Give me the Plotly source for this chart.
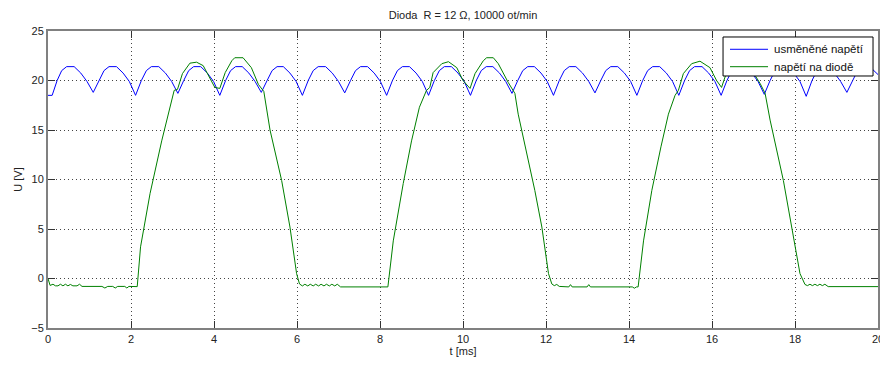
import plotly.graph_objects as go

# ---------------- data ----------------
blue_t = [0.00, 0.10, 0.22, 0.33, 0.45, 0.63, 0.79, 0.94,
          1.09, 1.23, 1.35, 1.47, 1.65, 1.81, 1.96,
          2.11, 2.25, 2.37, 2.49, 2.67, 2.83, 2.98,
          3.13, 3.27, 3.39, 3.51, 3.68, 3.84, 3.99,
          4.14, 4.28, 4.40, 4.52, 4.68, 4.84, 4.99,
          5.14, 5.28, 5.40, 5.52, 5.67, 5.83, 5.98,
          6.13, 6.27, 6.39, 6.51, 6.69, 6.85, 7.00,
          7.15, 7.29, 7.41, 7.53, 7.70, 7.86, 8.01,
          8.16, 8.30, 8.42, 8.54, 8.71, 8.87, 9.02,
          9.17, 9.31, 9.43, 9.55, 9.72, 9.88, 10.03,
          10.18, 10.32, 10.44, 10.56, 10.72, 10.88, 11.03,
          11.18, 11.32, 11.44, 11.56, 11.72, 11.88, 12.03,
          12.18, 12.32, 12.44, 12.56, 12.72, 12.88, 13.03,
          13.18, 13.32, 13.44, 13.56, 13.73, 13.89, 14.04,
          14.19, 14.33, 14.45, 14.57, 14.74, 14.90, 15.05,
          15.20, 15.34, 15.46, 15.58, 15.76, 15.92, 16.07,
          16.22, 16.36, 16.48, 16.60, 16.80, 16.96, 17.11,
          17.26, 17.40, 17.52, 17.64, 17.81, 17.97, 18.12,
          18.27, 18.41, 18.53, 18.65, 18.79, 18.95, 19.10,
          19.25, 19.39, 19.51, 19.63, 19.80, 20.00]
blue_v = [18.5, 18.5, 20.0, 21.0, 21.4, 21.4, 20.75, 19.9,
          18.8, 20.0, 21.0, 21.4, 21.4, 20.75, 19.9,
          18.5, 20.0, 21.0, 21.4, 21.4, 20.75, 19.9,
          18.7, 20.0, 21.0, 21.4, 21.4, 20.75, 19.9,
          18.5, 20.0, 21.0, 21.4, 21.4, 20.75, 19.9,
          18.8, 20.0, 21.0, 21.4, 21.4, 20.75, 19.9,
          18.5, 20.0, 21.0, 21.4, 21.4, 20.75, 19.9,
          18.75, 20.0, 21.0, 21.4, 21.4, 20.75, 19.9,
          18.5, 20.0, 21.0, 21.4, 21.4, 20.75, 19.9,
          18.5, 20.0, 21.0, 21.4, 21.4, 20.75, 19.9,
          18.5, 20.0, 21.0, 21.4, 21.4, 20.75, 19.9,
          18.7, 20.0, 21.0, 21.4, 21.4, 20.75, 19.9,
          18.5, 20.0, 21.0, 21.4, 21.4, 20.75, 19.9,
          18.75, 20.0, 21.0, 21.4, 21.4, 20.75, 19.9,
          18.5, 20.0, 21.0, 21.4, 21.4, 20.75, 19.9,
          18.5, 20.0, 21.0, 21.4, 21.4, 20.75, 19.9,
          18.5, 20.0, 21.0, 21.4, 21.4, 20.75, 19.9,
          18.6, 20.0, 21.0, 21.4, 21.4, 20.75, 19.9,
          18.4, 20.0, 21.0, 21.4, 21.4, 20.75, 19.9,
          18.8, 20.0, 21.0, 21.4, 21.4, 20.6]

green_t = [0.00, 0.05, 0.12, 0.18, 0.24, 0.30, 0.36, 0.42, 0.48, 0.54, 0.60, 0.70,
           0.76, 0.82, 1.30, 1.37, 1.44, 1.56, 1.62, 1.68, 1.85, 1.90, 1.95, 2.15,
           2.23, 2.46, 2.74, 2.90, 3.04, 3.12, 3.24, 3.42, 3.58, 3.74, 3.90, 4.02,
           4.14, 4.27, 4.43, 4.50, 4.70, 4.90, 5.07, 5.20, 5.35, 5.47, 5.63, 5.83,
           5.99, 6.06,
           6.13, 6.19, 6.26, 6.32, 6.39, 6.45, 6.52, 6.58, 6.65, 6.71, 6.78, 6.84,
           6.91, 6.97, 7.05, 8.19,
           8.32, 8.56, 8.76, 8.95, 9.12, 9.20, 9.28, 9.49, 9.65, 9.85, 10.00, 10.17,
           10.29, 10.49, 10.57, 10.73, 10.85, 11.09, 11.25, 11.33, 11.53, 11.73,
           11.90, 12.06, 12.14,
           12.20, 12.26, 12.32, 12.55, 12.59, 12.63, 12.99, 13.03, 13.07, 14.08,
           14.13, 14.18, 14.22,
           14.35, 14.55, 14.77, 14.95, 15.11, 15.19, 15.31, 15.51, 15.71, 15.95,
           16.11, 16.23, 16.35, 16.55, 16.62, 16.80, 16.92, 17.04, 17.16, 17.28,
           17.40, 17.72, 17.98, 18.12, 18.24,
           18.30, 18.36, 18.42, 18.48, 18.54, 18.60, 18.66, 18.72, 18.80, 20.00]
green_v = [0.0, -0.70, -0.58, -0.74, -0.74, -0.58, -0.74, -0.58, -0.74, -0.60, -0.74, -0.74,
           -0.58, -0.80, -0.80, -0.96, -0.80, -0.80, -0.96, -0.80, -0.80, -0.96, -0.80, -0.82,
           3.2, 8.6, 13.9, 16.6, 19.0, 19.1, 20.7, 21.75, 21.85, 21.5, 20.3, 19.3,
           19.2, 20.8, 22.0, 22.3, 22.3, 21.3, 19.6, 18.9, 15.0, 12.9, 9.9, 5.2,
           0.5, -0.55,
           -0.75, -0.58, -0.75, -0.58, -0.75, -0.58, -0.75, -0.58, -0.75, -0.58, -0.75, -0.58,
           -0.75, -0.58, -0.85, -0.85,
           3.8, 9.6, 13.9, 17.3, 19.0, 19.3, 20.8, 21.7, 21.9, 21.3, 20.0, 19.2,
           20.7, 22.0, 22.3, 22.3, 21.7, 19.8, 18.7, 16.6, 12.9, 8.9,
           5.2, 0.5, -0.55,
           -0.72, -0.60, -0.80, -0.85, -0.62, -0.85, -0.85, -0.62, -0.85, -0.85,
           -0.98, -0.85, -0.85,
           3.8, 8.9, 13.3, 16.6, 18.5, 19.0, 20.7, 21.7, 21.95, 21.3,
           20.0, 19.3, 20.8, 22.0, 22.3, 22.3, 21.5, 20.5, 19.7, 18.7,
           16.0, 9.9, 3.8, 0.5, -0.6,
           -0.72, -0.58, -0.72, -0.58, -0.72, -0.58, -0.72, -0.58, -0.82, -0.82]

series_names = ["usměněné napětí", "napětí na diodě"]
series_colors = ["#0000ff", "#008000"]
x_ticks = [0, 2, 4, 6, 8, 10, 12, 14, 16, 18, 20]
y_ticks = [-5, 0, 5, 10, 15, 20, 25]
title_text = "Dioda  R = 12 Ω, 10000 ot/min"
x_title = "t [ms]"
y_title = "U [V]"

# ---------------- figure ----------------
FONT = "Liberation Sans, Arial, Helvetica, sans-serif"
# the page body adds an 8 px offset, so the figure is 8 px smaller on each side
W, H = 880, 357

fig = go.Figure()
for name, color, xs, ys in [(series_names[0], series_colors[0], blue_t, blue_v),
                            (series_names[1], series_colors[1], green_t, green_v)]:
    fig.add_trace(go.Scatter(x=xs, y=ys, mode="lines", name=name,
                             line=dict(color=color, width=1), showlegend=False))

axis_common = dict(
    showline=True, linecolor="#808080", linewidth=2, mirror="ticks",
    ticks="inside", ticklen=7, tickwidth=1, tickcolor="#333333",
    showgrid=True, gridcolor="#444444", gridwidth=1, griddash="1px,3px",
    zeroline=False, automargin=False,
    tickfont=dict(family=FONT, size=11, color="#222222"),
)

fig.update_xaxes(range=[0, 20], tickvals=x_ticks, **axis_common,
                 title=dict(text=x_title, font=dict(family=FONT, size=11, color="#222222"),
                            standoff=3))
fig.update_yaxes(range=[-5, 25], tickvals=y_ticks, **axis_common,
                 title=dict(text=y_title, font=dict(family=FONT, size=11, color="#222222"),
                            standoff=6))

# MATLAB-style compact legend box (paper coordinates of the plot area)
leg_x0, leg_x1, leg_y0, leg_y1 = 0.8133, 0.9940, 0.8485, 0.9798
row_y = [0.9384, 0.8798]
sample_x0, sample_x1, text_x = 0.8217, 0.8675, 0.8719

shapes = [dict(type="rect", xref="paper", yref="paper", x0=leg_x0, x1=leg_x1,
               y0=leg_y0, y1=leg_y1, fillcolor="white",
               line=dict(color="#000000", width=1), layer="above")]
annotations = []
for name, color, ry in zip(series_names, series_colors, row_y):
    shapes.append(dict(type="line", xref="paper", yref="paper", x0=sample_x0, x1=sample_x1,
                       y0=ry, y1=ry, line=dict(color=color, width=1), layer="above"))
    annotations.append(dict(text=name, xref="paper", yref="paper", x=text_x, y=ry,
                            xanchor="left", yanchor="middle", showarrow=False,
                            font=dict(family=FONT, size=11.5, color="#111111")))

fig.update_layout(
    width=W, height=H,
    margin=dict(l=40, r=10, t=23, b=37, autoexpand=False),
    paper_bgcolor="white", plot_bgcolor="white",
    font=dict(family=FONT, size=11, color="#222222"),
    title=dict(text=title_text, x=0.5, xref="paper", xanchor="center",
               y=1 - 7 / H, yanchor="middle", yref="container",
               font=dict(family=FONT, size=11, color="#222222")),
    showlegend=False,
    shapes=shapes,
    annotations=annotations,
)

fig.write_html("out.html")
